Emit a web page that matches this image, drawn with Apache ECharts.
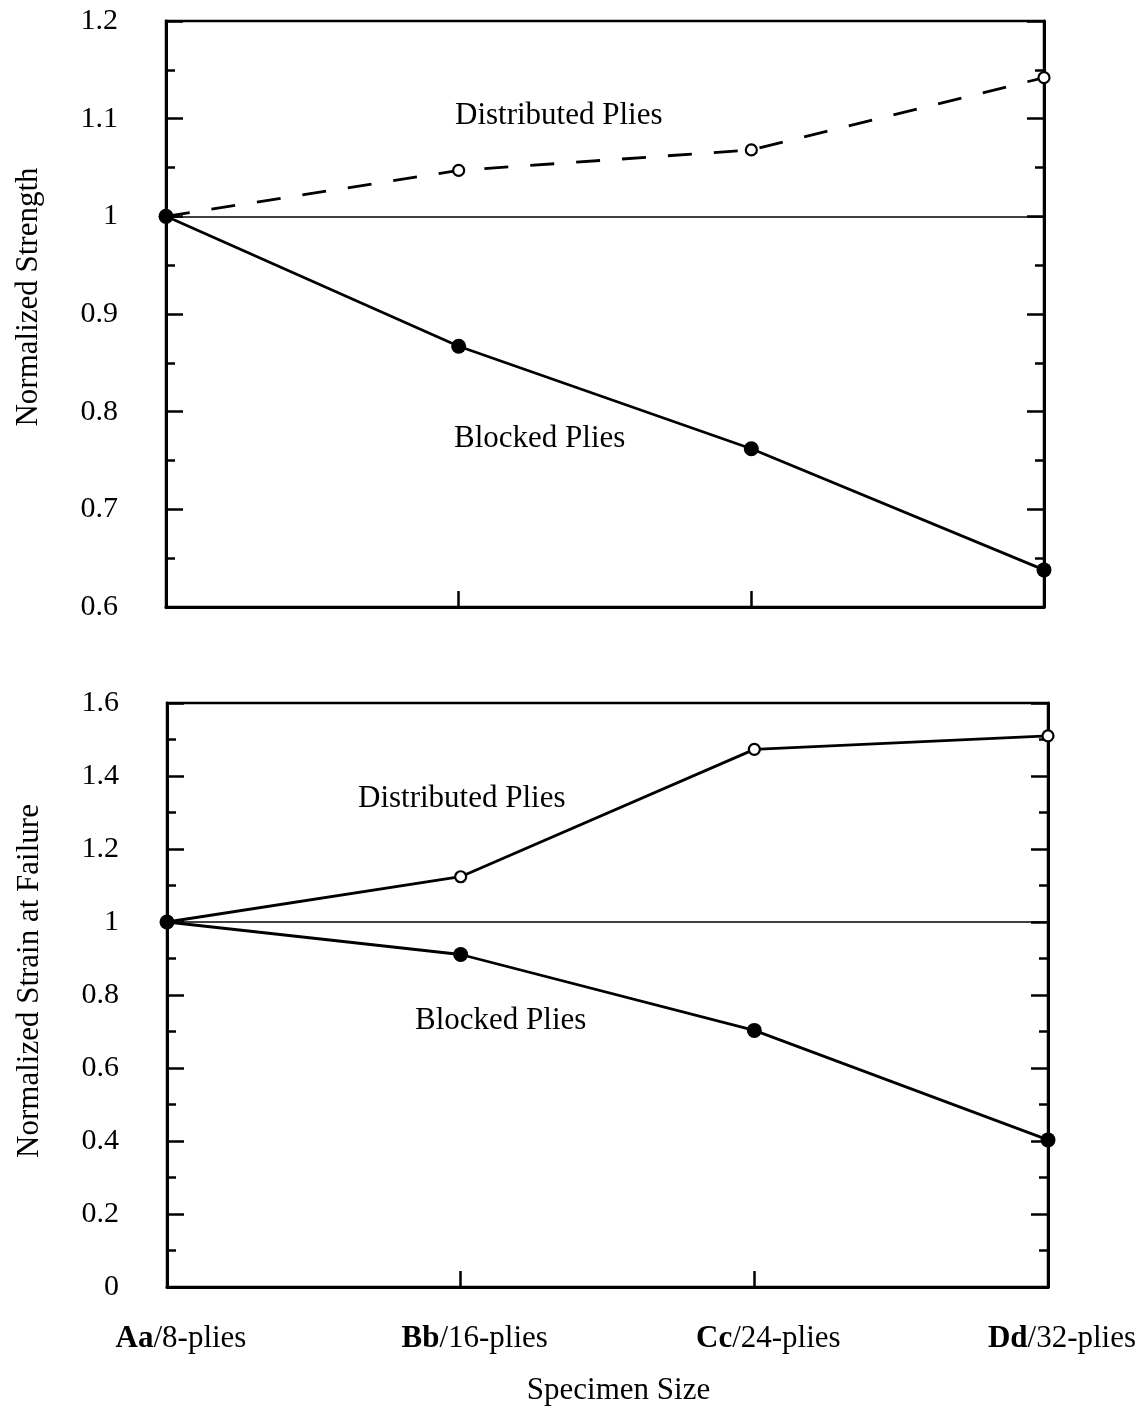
<!DOCTYPE html>
<html>
<head>
<meta charset="utf-8">
<script src="https://cdn.jsdelivr.net/npm/echarts@6/dist/echarts.min.js"></script>
<style>
  html,body{margin:0;padding:0;background:#fff;}
  #main{width:1148px;height:1407px;}
</style>
</head>
<body>
<div id="main"></div>
<script>
//数据
var sizes = ['Aa/8-plies', 'Bb/16-plies', 'Cc/24-plies', 'Dd/32-plies'];
var strengthDistributed = [1.0, 1.047, 1.068, 1.142];
var strengthBlocked = [1.0, 0.867, 0.762, 0.638];
var strainDistributed = [1.0, 1.124, 1.473, 1.51];
var strainBlocked = [1.0, 0.911, 0.703, 0.403];
var baseLine = 1;
var strengthTicks = {min: 0.6, max: 1.2, interval: 0.1};
var strainTicks = {min: 0, max: 1.6, interval: 0.2};

var font = 'Liberation Serif';

//y轴
function yAxis(idx, t, name, right, gap, shift) {
    return {
        type: 'value',
        gridIndex: idx,
        position: right ? 'right' : 'left',
        min: t.min, max: t.max, interval: t.interval,
        name: right ? '' : name,
        nameLocation: 'middle',
        nameGap: gap,
        nameTextStyle: {fontFamily: font, fontSize: 31, color: '#000', padding: [0, 0, 0, shift || 0]},
        axisLine: {show: true, lineStyle: {color: '#000', width: 3}},
        axisTick: {show: true, inside: true, length: 17, lineStyle: {color: '#000', width: 2.5}},
        minorTick: {show: true, splitNumber: 2, length: 9, lineStyle: {color: '#000', width: 2.5}},
        axisLabel: {show: !right, margin: 48, padding: [6, 0, 0, 0], fontFamily: font, fontSize: 30, color: '#000'},
        splitLine: {show: false}
    };
}

//x轴
function xAxis(idx, labels) {
    return {
        type: 'category',
        gridIndex: idx,
        data: sizes,
        boundaryGap: false,
        name: labels ? 'Specimen Size' : '',
        nameLocation: 'middle',
        nameGap: 88,
        nameTextStyle: {fontFamily: font, fontSize: 31, color: '#000', padding: [0, 0, 0, 22]},
        axisLine: {show: true, lineStyle: {color: '#000', width: 3}},
        axisTick: {show: true, inside: true, length: 16, lineStyle: {color: '#000', width: 2.5}},
        axisLabel: {
            show: labels,
            margin: 36,
            padding: [0, 0, 0, 28],
            formatter: function (v) {
                var p = v.split('/');
                return '{b|' + p[0] + '}{r|/' + p[1] + '}';
            },
            rich: {
                b: {fontFamily: font, fontSize: 31, fontWeight: 'bold', color: '#000'},
                r: {fontFamily: font, fontSize: 31, color: '#000'}
            }
        },
        splitLine: {show: false}
    };
}

function line(name, data, axis, dashed, open) {
    return {
        name: name,
        type: 'line',
        xAxisIndex: axis, yAxisIndex: axis * 2,
        data: data,
        symbol: 'circle',
        symbolSize: open ? 11 : 15,
        z: open ? 3 : 4,
        lineStyle: {color: '#000', width: 2.8, type: dashed ? [24, 22] : 'solid'},
        itemStyle: {color: open ? '#fff' : '#000', borderColor: '#000', borderWidth: open ? 2.2 : 0, opacity: 1},
        animation: false
    };
}

var myChart = echarts.init(document.getElementById('main'));
var txt = {fontFamily: font, fontSize: 31, fill: '#000'};
var option = {
    backgroundColor: '#fff',
    grid: [
        {left: 166, right: 104, top: 21, height: 586, show: true, borderColor: '#000', borderWidth: 2.5, backgroundColor: 'transparent'},
        {left: 167, right: 100, top: 703, height: 590, show: true, borderColor: '#000', borderWidth: 2.5, backgroundColor: 'transparent'}
    ],
    xAxis: [xAxis(0, false), xAxis(1, true)],
    yAxis: [
        yAxis(0, strengthTicks, 'Normalized Strength', false, 122, 34),
        yAxis(0, strengthTicks, '', true, 0),
        yAxis(1, strainTicks, 'Normalized Strain at Failure', false, 122, 28),
        yAxis(1, strainTicks, '', true, 0)
    ],
    series: [
        line('Distributed Plies', strengthDistributed, 0, true, true),
        line('Blocked Plies', strengthBlocked, 0, false, false),
        line('Distributed Plies', strainDistributed, 1, false, true),
        line('Blocked Plies', strainBlocked, 1, false, false)
    ],
    graphic: [
        {type: 'text', left: 455, top: 100, style: Object.assign({text: 'Distributed Plies'}, txt)},
        {type: 'text', left: 454, top: 423, style: Object.assign({text: 'Blocked Plies'}, txt)},
        {type: 'text', left: 358, top: 783, style: Object.assign({text: 'Distributed Plies'}, txt)},
        {type: 'text', left: 415, top: 1005, style: Object.assign({text: 'Blocked Plies'}, txt)}
    ]
};
//基准线 y=1
[1, 3].forEach(function (i) {
    option.series[i].markLine = {
        silent: true, symbol: 'none', animation: false,
        label: {show: false},
        lineStyle: {color: '#000', width: 1.5, type: 'solid'},
        data: [{yAxis: baseLine}]
    };
});
myChart.setOption(option);
</script>
</body>
</html>
